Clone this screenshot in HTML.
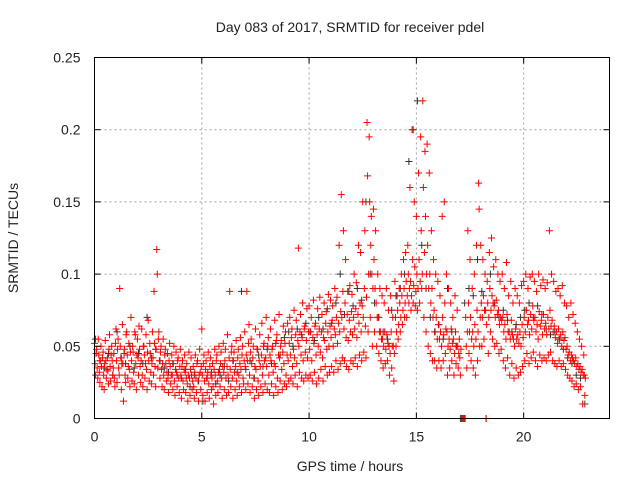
<!DOCTYPE html>
<html><head><meta charset="utf-8"><style>
html,body{margin:0;padding:0;background:#fff;}
svg{display:block;font-family:"Liberation Sans",sans-serif;}
</style></head><body>
<svg id="chart" width="640" height="480" viewBox="0 0 640 480" xmlns="http://www.w3.org/2000/svg">
<rect width="640" height="480" fill="#fff"/>
<g id="grid"></g>
<g id="black-series"></g>
<g id="red-series"></g>
<rect x="94.5" y="57.5" width="515" height="361" fill="none" stroke="#000" stroke-width="1"/>
<g id="axes"></g>
<text x="350" y="32" font-size="14" text-anchor="middle" fill="#222">Day 083 of 2017, SRMTID for receiver pdel</text>
<text x="350" y="471" font-size="14" text-anchor="middle" fill="#222">GPS time / hours</text>
<text x="0" y="0" font-size="14" text-anchor="middle" fill="#222" transform="translate(18,238) rotate(-90)">SRMTID / TECUs</text>
</svg>
<script>
// values in units of 0.001 TECU; red series: 4 samples per 0.1-hour step starting at t=0
const redStep = 0.1;
const redValues = [
[52,38,30,45],[48,35,28,55],[44,32,25,40],[50,36,22,42],[46,30,20,38],[54,40,28,34],[42,33,24,48],[58,36,26,44],[50,40,30,35],[45,28,22,52],
[62,40,25,48],[55,35,30,90],[50,42,20,38],[65,38,12,45],[48,30,25,58],[60,44,28,36],[52,34,22,46],[70,40,26,50],[46,32,24,60],[58,38,20,44],
[55,42,30,64],[48,36,25,40],[62,30,22,50],[50,44,28,38],[58,34,20,46],[68,40,26,52],[45,32,24,38],[60,42,30,88],[52,36,22,48],[117,100,35,55],
[60,40,28,46],[50,34,22,38],[55,30,20,44],[48,38,26,32],[45,28,18,40],[52,36,24,30],[44,30,20,38],[50,26,16,34],[46,32,22,40],[42,28,18,36],
[48,30,14,36],[40,26,20,34],[44,32,18,28],[38,24,12,30],[46,28,16,34],[42,30,20,26],[36,22,14,32],[44,28,18,38],[40,26,12,30],[48,32,20,36],
[62,30,16,38],[44,26,12,34],[40,28,18,32],[46,24,14,36],[42,30,20,28],[38,22,10,34],[48,30,16,40],[44,26,18,32],[50,34,22,38],[46,28,14,36],
[52,32,20,40],[48,28,16,36],[58,30,18,42],[88,34,22,46],[50,28,14,40],[46,32,20,36],[54,26,16,42],[48,30,22,38],[56,34,18,44],[50,28,24,40],
[60,36,20,44],[88,40,24,52],[65,30,18,46],[55,38,22,42],[50,28,14,36],[62,34,20,48],[48,26,16,40],[58,36,22,44],[66,30,18,50],[52,40,24,42],
[70,36,20,50],[56,30,18,44],[62,40,24,48],[50,32,16,38],[68,36,22,54],[58,28,18,44],[72,42,26,50],[54,34,20,46],[64,38,24,52],[60,30,22,44],
[66,40,26,52],[70,44,28,56],[62,36,24,48],[75,42,30,58],[68,38,22,54],[118,50,32,60],[72,44,28,56],[80,40,26,62],[64,46,30,54],[76,42,28,60],
[78,48,30,60],[70,40,26,56],[82,52,32,64],[66,44,24,58],[76,50,28,62],[84,46,34,60],[72,42,26,56],[80,54,36,66],[74,48,30,60],[86,50,32,64],
[82,56,36,68],[78,50,32,62],[90,58,40,70],[84,52,34,66],[120,60,38,74],[155,70,42,88],[130,62,40,80],[110,56,36,72],[88,54,34,68],[92,60,40,74],
[86,58,38,70],[100,62,42,76],[94,56,36,72],[120,66,44,80],[115,60,40,78],[150,70,46,90],[130,64,42,84],[205,168,60,100],[195,150,70,120],[140,100,50,90],
[145,110,60,90],[130,80,50,70],[100,70,45,60],[90,60,40,55],[85,55,35,50],[80,60,38,48],[90,58,40,52],[75,50,30,45],[85,60,35,50],[70,50,26,45],
[95,70,50,60],[85,75,55,65],[90,80,60,70],[100,85,65,75],[110,90,70,80],[115,95,70,85],[120,100,80,90],[160,95,75,85],[200,110,80,92],[150,105,78,88],
[140,100,75,90],[170,110,80,95],[195,130,90,100],[220,160,70,115],[185,140,60,100],[190,120,50,90],[170,100,45,80],[130,90,40,70],[110,75,40,60],[100,70,35,55],
[95,65,40,55],[85,60,35,50],[140,70,40,58],[150,80,45,62],[100,60,30,50],[90,55,35,48],[80,62,40,52],[70,55,30,45],[85,60,38,50],[75,50,35,45],
[55,42,30,48],[0,0,0,0],[0,0,0,0],[70,50,35,60],[130,80,45,60],[110,70,40,55],[90,60,35,50],[100,65,30,55],[120,75,40,60],[163,145,50,70],
[120,80,50,70],[110,85,55,75],[100,75,0,65],[95,80,45,70],[115,90,60,75],[125,85,55,80],[105,78,50,70],[110,82,52,72],[100,75,45,65],[95,70,48,68],
[100,70,40,60],[90,65,35,55],[108,72,42,60],[85,60,30,55],[95,68,38,58],[80,55,28,50],[90,62,35,55],[85,58,30,52],[80,60,32,50],[92,65,36,56],
[95,70,40,60],[100,75,45,65],[90,68,38,58],[98,72,42,62],[100,78,46,68],[95,70,40,60],[88,65,36,55],[100,74,44,64],[92,68,40,58],[96,72,42,62],
[90,66,40,58],[94,70,44,62],[130,75,46,64],[100,68,40,60],[95,64,38,56],[88,60,36,52],[90,62,40,55],[85,58,36,50],[92,60,38,54],[80,56,34,48],
[78,50,30,44],[70,46,28,40],[80,44,26,42],[72,40,22,38],[66,42,24,36],[60,38,20,34],[55,36,22,32],[50,34,10,30],[44,30,16,28]
];
// black series: one sample per 0.2-hour step starting at t=0 (units 0.001)
const blackStep = 0.2;
const blackValues = [
55,40,35,45,30,60,42,38,50,35, 45,38,70,42,48,40,35,32,38,30,
28,34,22,30,26,12,28,32,24,30, 36,26,40,32,88,34,40,28,44,36,
48,38,52,44,56,60,50,62,58,66, 60,54,70,62,76,66,80,100,72,88,
78,90,82,150,100,80,70,60,55,75, 85,90,100,178,200,220,120,90,70,60,
65,55,90,60,50,0,80,90,85,110, 88,0,100,80,70,75,68,60,65,70,
75,80,70,78,72,62,58,60,55,48, 42,38,30,28,10
];
const xTicks = [0,5,10,15,20];
const xTickLabels = ["0","5","10","15","20"];
const yTicks = [0,0.05,0.1,0.15,0.2,0.25];
const yTickLabels = ["0","0.05","0.1","0.15","0.2","0.25"];
const unit = 0.001;

const X0=94.5, X1=609.5, Y0=418.5, Y1=57.5;
const xMax=24, yMax=0.25;
function xs(t){return X0+(X1-X0)*t/xMax;}
function ys(v){return Y0-(Y0-Y1)*v/yMax;}
const NS="http://www.w3.org/2000/svg";
function mk(tag,parent){const e=document.createElementNS(NS,tag);parent.appendChild(e);return e;}

const grid=document.getElementById('grid'), axes=document.getElementById('axes');
xTicks.forEach((t,i)=>{
  const x=xs(t);
  if(t>0){const g=mk('line',grid);g.setAttribute('x1',x);g.setAttribute('x2',x);g.setAttribute('y1',Y1);g.setAttribute('y2',Y0);
    g.setAttribute('stroke','#a0a0a0');g.setAttribute('stroke-dasharray','2,3');
    
    }
  [[Y0,Y0-6],[Y1,Y1+6]].forEach(p=>{const l=mk('line',axes);l.setAttribute('x1',x);l.setAttribute('x2',x);l.setAttribute('y1',p[0]);l.setAttribute('y2',p[1]);l.setAttribute('stroke','#000');
    
    });
  const tx=mk('text',axes);tx.textContent=xTickLabels[i];tx.setAttribute('x',x);tx.setAttribute('y',Y0+23);tx.setAttribute('font-size','14');tx.setAttribute('text-anchor','middle');tx.setAttribute('fill','#222');
  
  
});
yTicks.forEach((v,i)=>{
  const y=ys(v);
  if(v>0&&v<yMax){const g=mk('line',grid);g.setAttribute('x1',X0);g.setAttribute('x2',X1);g.setAttribute('y1',y);g.setAttribute('y2',y);
    g.setAttribute('stroke','#a0a0a0');g.setAttribute('stroke-dasharray','2,3');
    
    }
  [[X0,X0+6],[X1,X1-6]].forEach(p=>{const l=mk('line',axes);l.setAttribute('x1',p[0]);l.setAttribute('x2',p[1]);l.setAttribute('y1',y);l.setAttribute('y2',y);l.setAttribute('stroke','#000');
    
    });
  const tx=mk('text',axes);tx.textContent=yTickLabels[i];tx.setAttribute('x',X0-14);tx.setAttribute('y',y+5);tx.setAttribute('font-size','14');tx.setAttribute('text-anchor','end');tx.setAttribute('fill','#222');
  
  
});

function plus(parent,t,v,color){
  const x=xs(t), y=ys(v);
  const p=mk('path',parent);
  p.setAttribute('d','M'+(x-3.5)+' '+y+'h7M'+x+' '+(y-3.5)+'v7');
  p.setAttribute('stroke',color);p.setAttribute('stroke-width','1');
  
  
}
const bg=document.getElementById('black-series');
blackValues.forEach((v,i)=>plus(bg,i*blackStep+0.05,v*unit,'#333'));
const rg=document.getElementById('red-series');
redValues.forEach((row,i)=>row.forEach((v,j)=>plus(rg,i*redStep+j*0.025,v*unit,'#ff0000')));
</script>
</body></html>
